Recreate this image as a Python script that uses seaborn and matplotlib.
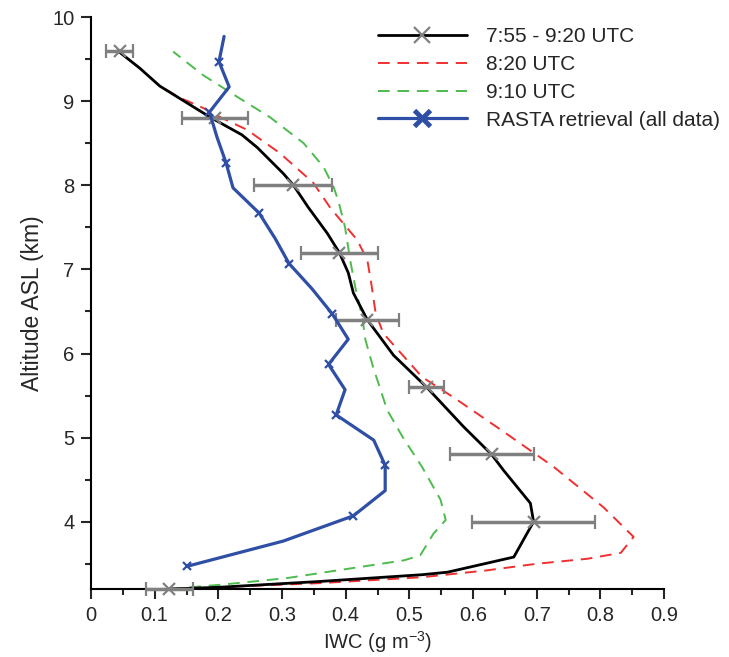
import matplotlib
matplotlib.use("Agg")
import matplotlib.pyplot as plt
from matplotlib.lines import Line2D
from matplotlib.ticker import MultipleLocator
import seaborn as sns
import pandas as pd

# 7:55 - 9:20 UTC mean profile (black)
mean_iwc = [0.123, 0.20, 0.36, 0.52, 0.56, 0.664, 0.695, 0.690, 0.648, 0.629, 0.585, 0.527,
            0.475, 0.434, 0.412, 0.404, 0.390, 0.371, 0.341, 0.318, 0.302, 0.261, 0.237,
            0.187, 0.140, 0.108, 0.077, 0.042]
mean_alt = [3.2, 3.22, 3.29, 3.37, 3.40, 3.58, 4.0, 4.22, 4.61, 4.8, 5.13, 5.6,
            5.98, 6.4, 6.72, 6.96, 7.2, 7.43, 7.74, 8.0, 8.14, 8.45, 8.6,
            8.81, 9.03, 9.18, 9.39, 9.6]

# error bars every 0.8 km
err_alt = [9.6, 8.8, 8.0, 7.2, 6.4, 5.6, 4.8, 4.0, 3.2]
err_iwc = [0.045, 0.195, 0.317, 0.390, 0.434, 0.527, 0.629, 0.695, 0.123]
err_sd = [0.021, 0.052, 0.061, 0.060, 0.049, 0.028, 0.066, 0.097, 0.037]

# 8:20 UTC (red dashed)
red_iwc = [0.13, 0.36, 0.52, 0.62, 0.70, 0.78, 0.832, 0.852, 0.805, 0.727, 0.648, 0.569,
           0.52, 0.459, 0.447, 0.440, 0.434, 0.418, 0.376, 0.349, 0.297, 0.245, 0.203,
           0.176, 0.140, 0.108, 0.077, 0.042]
red_alt = [3.2, 3.27, 3.34, 3.42, 3.50, 3.56, 3.63, 3.82, 4.17, 4.65, 5.07, 5.48,
           5.72, 6.24, 6.48, 6.84, 7.11, 7.35, 7.73, 8.03, 8.38, 8.66, 8.81,
           8.92, 9.04, 9.18, 9.39, 9.6]

# 9:10 UTC (green dashed)
green_iwc = [0.124, 0.203, 0.308, 0.412, 0.491, 0.517, 0.538, 0.557, 0.549, 0.520, 0.490,
             0.465, 0.443, 0.431, 0.426, 0.415, 0.407, 0.399, 0.389, 0.381, 0.365, 0.334,
             0.281, 0.230, 0.176, 0.129]
green_alt = [3.2, 3.25, 3.33, 3.45, 3.54, 3.60, 3.86, 4.02, 4.26, 4.65, 5.0,
             5.33, 5.84, 6.16, 6.43, 6.79, 7.11, 7.50, 7.80, 7.98, 8.22, 8.50,
             8.81, 9.05, 9.31, 9.59]

# RASTA retrieval (blue)
rasta_alt = [9.77, 9.47, 9.17, 8.87, 8.57, 8.27, 7.97, 7.67, 7.37, 7.07, 6.77, 6.47,
             6.17, 5.87, 5.57, 5.27, 4.97, 4.67, 4.37, 4.07, 3.77, 3.47]
rasta_iwc = [0.209, 0.201, 0.217, 0.186, 0.198, 0.212, 0.223, 0.264, 0.289, 0.311, 0.347, 0.379,
             0.404, 0.373, 0.399, 0.385, 0.444, 0.462, 0.462, 0.412, 0.302, 0.151]

sns.set_style("ticks")
plt.rcParams["font.family"] = ["Liberation Sans", "DejaVu Sans"]

fig = plt.figure(figsize=(7.29, 6.57), dpi=100)
ax = fig.add_axes([0.1248, 0.1035, 0.911 - 0.1248, 0.974 - 0.1035])

red_c = "#f03030"
green_c = "#4dbb4d"
blue_c = "#2f4fa6"

df_red = pd.DataFrame({"IWC": red_iwc, "Alt": red_alt})
df_green = pd.DataFrame({"IWC": green_iwc, "Alt": green_alt})
df_mean = pd.DataFrame({"IWC": mean_iwc, "Alt": mean_alt})
df_rasta = pd.DataFrame({"IWC": rasta_iwc, "Alt": rasta_alt})

sns.lineplot(data=df_red, x="IWC", y="Alt", sort=False, estimator=None, color=red_c,
             lw=1.4, ax=ax).lines[-1].set_dashes((6, 4))
sns.lineplot(data=df_green, x="IWC", y="Alt", sort=False, estimator=None, color=green_c,
             lw=1.4, ax=ax).lines[-1].set_dashes((6, 4))
sns.lineplot(data=df_mean, x="IWC", y="Alt", sort=False, estimator=None, color="black",
             lw=2.0, ax=ax)
ax.errorbar(err_iwc, err_alt, xerr=err_sd, fmt="x", color="#808080", ms=9, mew=1.6,
            elinewidth=2.5, capsize=5, capthick=2.5, clip_on=False, zorder=4)
sns.lineplot(data=df_rasta, x="IWC", y="Alt", sort=False, estimator=None, color=blue_c,
             lw=2.3, marker="x", markevery=slice(1, None, 2), markersize=6, mew=1.6,
             mec=blue_c, ax=ax, zorder=5)

ax.set_xlim(0, 0.9)
ax.set_ylim(3.2, 10)
ax.xaxis.set_major_locator(MultipleLocator(0.1))
ax.xaxis.set_minor_locator(MultipleLocator(0.05))
ax.yaxis.set_major_locator(MultipleLocator(1))
ax.yaxis.set_minor_locator(MultipleLocator(0.5))
ax.set_xticks([i / 10 for i in range(10)])
ax.set_xticklabels(["0"] + [f"{i / 10:.1f}" for i in range(1, 10)])
ax.tick_params(which="major", direction="out", length=7, width=1.5, labelsize=14.5, pad=5)
ax.tick_params(which="minor", direction="out", length=4, width=1.5)
for s in ["top", "right"]:
    ax.spines[s].set_visible(False)
for s in ["left", "bottom"]:
    ax.spines[s].set_linewidth(1.5)
    ax.spines[s].set_color("black")

ax.set_xlabel(r"IWC (g m$^{\mathregular{-3}}$)", fontsize=14.5, labelpad=3)
ax.set_ylabel("Altitude ASL (km)", fontsize=16.5, labelpad=6)

handles = [
    Line2D([], [], color="black", lw=2.0, marker="x", mec="#808080", ms=11, mew=1.6),
    Line2D([], [], color=red_c, lw=1.4, dashes=(6, 4)),
    Line2D([], [], color=green_c, lw=1.4, dashes=(6, 4)),
    Line2D([], [], color=blue_c, lw=2.3, marker="x", mec=blue_c, ms=11, mew=3.5),
]
labels = ["7:55 - 9:20 UTC", "8:20 UTC", "9:10 UTC", "RASTA retrieval (all data)"]
ax.legend(handles, labels, loc="upper left", bbox_to_anchor=(0.50, 0.982), frameon=False,
          fontsize=15, handlelength=4.3, handletextpad=0.9, labelspacing=0.42,
          borderpad=0, borderaxespad=0, numpoints=1)

fig.savefig("out.png", dpi=100)
